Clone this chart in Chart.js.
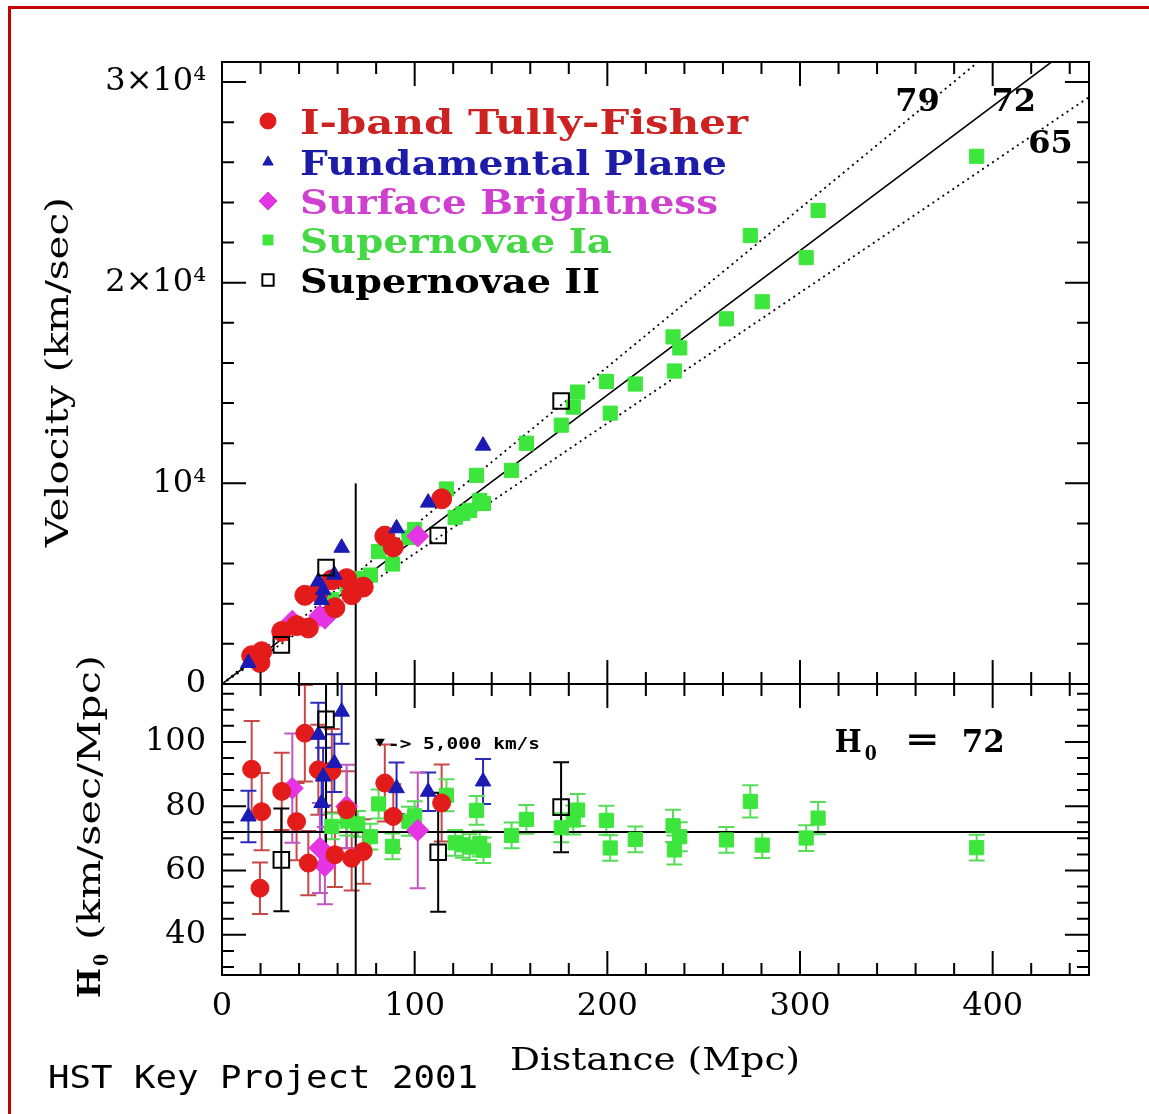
<!DOCTYPE html>
<html lang="en">
<head>
<meta charset="utf-8">
<title>HST Key Project 2001 - Hubble diagram</title>
<script src="https://cdn.jsdelivr.net/npm/chart.js@4.4.1/dist/chart.umd.min.js"></script>
<style>
  body { margin: 0; background: #fff; }
  .page { position: relative; width: 1149px; height: 1114px; overflow: hidden; background: #fff; }
  .page canvas { position: absolute; left: 0; top: 0; }
  .red-frame { position: absolute; left: 8px; top: 6px; width: 1200px; height: 1200px;
               border-left: 3px solid #c40000; border-top: 3px solid #c40000; }
</style>
</head>
<body>
<div class="page">
  <canvas id="hubble-chart" width="1149" height="1114"></canvas>
  <div class="red-frame"></div>
</div>
<script>
// Axis ranges
const distMax = 450;
const velMax = 31000;
const h0Min = 27.5;
const h0Max = 118;
const velTicks = [0, 10000, 20000, 30000];
const velTickLabels = ['0', '10⁴', '2×10⁴', '3×10⁴'];
const h0Ticks = [40, 60, 80, 100];
const distTicks = [0, 100, 200, 300, 400];

// Hubble constants of the three lines in the top panel
const fitH0 = [79, 72, 65];
const fitH0Labels = ['79', '72', '65'];
const bestH0 = 72;

// Vertical cut (5,000 km/s)
const cutDist = 69.4;
const cutVel = 10000;

// I-band Tully-Fisher
const tfDist = [15.4, 20.6, 19.7, 31.0, 38.7, 43.0, 44.8, 50.0, 57.0, 58.6, 64.7, 67.3, 73.3, 84.5, 88.9, 114.0];
const tfVel  = [1410, 1610, 1075, 2620, 2910, 4420, 2790, 4570, 5190, 3800, 5250, 4450, 4830, 7370, 6830, 9230];
const tfH0   = [91.5, 78.3, 54.5, 84.6, 75.2, 102.7, 62.3, 91.3, 91.0, 64.9, 78.9, 63.8, 65.9, 87.2, 76.8, 81.0];
const tfErr  = [15, 12, 8, 12, 12, 15, 10, 14, 13, 10, 12, 10, 10, 12, 10, 12];

// Fundamental Plane
const fpDist = [13.7, 50.0, 52.5, 51.7, 58.3, 62.1, 90.6, 107.0, 135.5];
const fpVel  = [1050, 5110, 4680, 4190, 5450, 6790, 7760, 9040, 11880];
const fpH0   = [76.8, 102.2, 89.2, 81.0, 93.4, 109.4, 85.6, 84.5, 87.7];
const fpErr  = [8, 10, 9, 9, 9, 10, 8, 6, 7];

// Surface Brightness
const sbfDist = [36.5, 50.8, 53.4, 64.7, 101.6];
const sbfVel  = [3130, 3400, 3280, 5170, 7370];
const sbfH0   = [85.6, 67.0, 61.5, 79.9, 72.5];
const sbfErr  = [17, 14, 12, 13, 18];

// Supernovae Ia
const snIaDist = [57.0, 65.0, 70.5, 77.0, 81.3, 88.5, 97.0, 100.0, 116.5, 121.0, 125.0, 128.5, 132.1, 133.8, 135.7, 150.3,
                  158.0, 176.1, 182.3, 184.6, 199.5, 201.5, 214.5, 234.1, 237.6, 234.8, 261.8, 274.2, 280.4, 303.2, 309.4, 391.7];
const snIaVel  = [4200, 4900, 5250, 5430, 6600, 5980, 7300, 7700, 9720, 8300, 8500, 8650, 10400, 9150, 9000, 10650,
                  12000, 12900, 13800, 14550, 15080, 13500, 14950, 17300, 16750, 15600, 18200, 22350, 19050, 21250, 23600, 26300];
const snIaH0   = [73.7, 75.4, 74.5, 70.5, 80.7, 67.5, 75.3, 77.0, 83.4, 68.6, 68.0, 67.3, 78.7, 68.4, 66.3, 70.9,
                  75.9, 73.3, 75.7, 78.8, 75.6, 67.0, 69.7, 73.9, 70.5, 66.4, 69.5, 81.5, 67.9, 70.1, 76.3, 67.1];
const snIaErr  = [4, 4.5, 4, 4, 4.5, 4, 4.5, 4.5, 5, 4, 4, 4, 4.5, 4, 4, 4,
                  4.5, 4.5, 4.5, 5, 4.5, 4, 4, 5, 4.5, 4.5, 4, 5, 4, 4, 5, 4];

// Supernovae II
const snIIDist = [30.8, 54.0, 112.2, 176.0];
const snIIVel  = [1950, 5800, 7400, 14100];
const snIIH0   = [63.3, 107.0, 65.7, 79.7];
const snIIErr  = [16, 40, 18.5, 14];

// Methods and their styles
const methods = [
    { label: 'I-band Tully-Fisher', dist: tfDist, vel: tfVel, h0: tfH0, err: tfErr,
      fill: '#e41b1b', edge: '#e41b1b', edgeWidth: 1, bar: '#c84848', text: '#cc2222',
      style: 'circle', size: 10, sizeLow: 9, legendSize: 8, order: 2 },
    { label: 'Fundamental Plane', dist: fpDist, vel: fpVel, h0: fpH0, err: fpErr,
      fill: '#1a1ab4', edge: '#1a1ab4', edgeWidth: 1, bar: '#2a2ab8', text: '#1c1ca8',
      style: 'triangle', size: 9, sizeLow: 9, legendSize: 6, order: 1 },
    { label: 'Surface Brightness', dist: sbfDist, vel: sbfVel, h0: sbfH0, err: sbfErr,
      fill: '#e434e4', edge: '#e434e4', edgeWidth: 1, bar: '#c056c0', text: '#d040d0',
      style: 'rectRot', size: 11, sizeLow: 11, legendSize: 9, order: 3 },
    { label: 'Supernovae Ia', dist: snIaDist, vel: snIaVel, h0: snIaH0, err: snIaErr,
      fill: '#3ce63c', edge: '#3ce63c', edgeWidth: 1, bar: '#58dc58', text: '#44d844',
      style: 'rect', size: 10, sizeLow: 10, legendSize: 7, order: 4 },
    { label: 'Supernovae II', dist: snIIDist, vel: snIIVel, h0: snIIH0, err: snIIErr,
      fill: 'rgba(0,0,0,0)', edge: '#000', edgeWidth: 2, bar: '#000', text: '#000',
      style: 'rect', size: 11, sizeLow: 11, legendSize: 8, order: 0 }
];

const serif = '"DejaVu Serif", "Liberation Serif", serif';

// Build the datasets
const datasets = [];

methods.forEach((m) => {
    // top panel: velocity
    datasets.push({
        type: 'scatter',
        label: m.label,
        yAxisID: 'yV',
        data: m.dist.map((d, i) => ({ x: d, y: m.vel[i] })),
        pointStyle: m.style,
        pointRadius: m.size,
        backgroundColor: m.fill,
        borderColor: m.edge,
        borderWidth: m.edgeWidth,
        order: m.order
    });
    // bottom panel: H0 with error bars
    datasets.push({
        type: 'scatter',
        label: m.label + ' H0',
        yAxisID: 'yH',
        data: m.dist.map((d, i) => ({ x: d, y: m.h0[i] })),
        errors: m.err,
        barColor: m.bar,
        pointStyle: m.style,
        pointRadius: m.sizeLow,
        backgroundColor: m.fill,
        borderColor: m.edge,
        borderWidth: m.edgeWidth,
        order: m.order
    });
});

// Hubble lines v = H0 * d
fitH0.forEach((h) => {
    datasets.push({
        type: 'line',
        yAxisID: 'yV',
        data: [{ x: 0, y: 0 }, { x: distMax, y: h * distMax }],
        borderColor: '#000',
        borderWidth: h === bestH0 ? 1.6 : 1.8,
        borderDash: h === bestH0 ? [] : [2, 4],
        pointRadius: 0,
        order: 10
    });
});

// H0 = 72 line in the bottom panel
datasets.push({
    type: 'line',
    yAxisID: 'yH',
    data: [{ x: 0, y: bestH0 }, { x: distMax, y: bestH0 }],
    borderColor: '#000',
    borderWidth: 2,
    pointRadius: 0,
    order: 10
});

// vertical cut line in both panels
datasets.push({
    type: 'line',
    yAxisID: 'yV',
    data: [{ x: cutDist, y: 0 }, { x: cutDist, y: cutVel }],
    borderColor: '#000',
    borderWidth: 2,
    pointRadius: 0,
    order: 10
});
datasets.push({
    type: 'line',
    yAxisID: 'yH',
    data: [{ x: cutDist, y: h0Min }, { x: cutDist, y: h0Max }],
    borderColor: '#000',
    borderWidth: 2,
    pointRadius: 0,
    order: 10
});

// Error bars under the bottom panel markers
const errorBars = {
    id: 'errorBars',
    beforeDatasetsDraw(chart) {
        const ctx = chart.ctx;
        const xs = chart.scales.x;
        const ys = chart.scales.yH;
        ctx.save();
        ctx.beginPath();
        ctx.rect(xs.left, ys.top, xs.right - xs.left, ys.bottom - ys.top);
        ctx.clip();
        ctx.lineWidth = 2;
        chart.data.datasets.forEach((ds) => {
            if (!ds.errors) return;
            ctx.strokeStyle = ds.barColor;
            ds.data.forEach((p, i) => {
                const px = xs.getPixelForValue(p.x);
                const hi = ys.getPixelForValue(p.y + ds.errors[i]);
                const lo = ys.getPixelForValue(p.y - ds.errors[i]);
                ctx.beginPath();
                ctx.moveTo(px, hi);
                ctx.lineTo(px, lo);
                ctx.moveTo(px - 8, hi);
                ctx.lineTo(px + 8, hi);
                ctx.moveTo(px - 8, lo);
                ctx.lineTo(px + 8, lo);
                ctx.stroke();
            });
        });
        ctx.restore();
    }
};

// Boxes and inward ticks on all sides of both panels
const panelFrames = {
    id: 'panelFrames',
    afterDatasetsDraw(chart) {
        const ctx = chart.ctx;
        const xs = chart.scales.x;
        const panels = [
            { scale: chart.scales.yV, start: 0, minor: 2000, major: 10000 },
            { scale: chart.scales.yH, start: 30, minor: 5, major: 20 }
        ];
        ctx.save();
        ctx.strokeStyle = '#000';
        ctx.lineWidth = 2;
        panels.forEach((p) => {
            const s = p.scale;
            ctx.strokeRect(xs.left, s.top, xs.right - xs.left, s.bottom - s.top);
            ctx.beginPath();
            for (let d = 20; d < distMax; d += 20) {
                const px = xs.getPixelForValue(d);
                const len = d % 100 === 0 ? 24 : 12;
                ctx.moveTo(px, s.bottom);
                ctx.lineTo(px, s.bottom - len);
                ctx.moveTo(px, s.top);
                ctx.lineTo(px, s.top + len);
            }
            for (let v = p.start; v < s.max; v += p.minor) {
                if (v <= s.min) continue;
                const py = s.getPixelForValue(v);
                const len = v % p.major === 0 ? 24 : 12;
                ctx.moveTo(xs.left, py);
                ctx.lineTo(xs.left + len, py);
                ctx.moveTo(xs.right, py);
                ctx.lineTo(xs.right - len, py);
            }
            ctx.stroke();
        });
        ctx.restore();
    }
};

// Draw text squeezed or stretched to a given width
function drawFitText(ctx, text, x, y, width, font, color, angle) {
    ctx.save();
    ctx.font = font;
    ctx.fillStyle = color;
    ctx.textAlign = 'left';
    ctx.textBaseline = 'alphabetic';
    const w = ctx.measureText(text).width;
    ctx.translate(x, y);
    if (angle) ctx.rotate(angle);
    ctx.scale(width / w, 1);
    ctx.fillText(text, 0, 0);
    ctx.restore();
}

// Legend, labels and titles
const chartTexts = {
    id: 'chartTexts',
    afterDraw(chart) {
        const ctx = chart.ctx;
        const xs = chart.scales.x;
        const yV = chart.scales.yV;
        const yH = chart.scales.yH;

        // legend
        const legendRows = [121, 162, 201, 240, 280];
        const legendWidths = [448, 427, 418, 312, 300];
        methods.forEach((m, i) => {
            ctx.save();
            ctx.fillStyle = m.fill;
            ctx.strokeStyle = m.edge;
            ctx.lineWidth = m.edgeWidth;
            Chart.helpers.drawPoint(ctx, { pointStyle: m.style, radius: m.legendSize, borderWidth: m.edgeWidth, rotation: 0 }, 268, legendRows[i]);
            ctx.restore();
            drawFitText(ctx, m.label, 300, legendRows[i] + 13, legendWidths[i], 'bold 33px ' + serif, m.text);
        });

        // labels of the Hubble lines
        const fitLabelAt = [[361, 28950], [411, 28950], [430, 26860]];
        ctx.save();
        ctx.font = 'bold 32px ' + serif;
        ctx.fillStyle = '#000';
        ctx.textAlign = 'center';
        ctx.textBaseline = 'middle';
        fitH0Labels.forEach((t, i) => {
            ctx.fillText(t, xs.getPixelForValue(fitLabelAt[i][0]), yV.getPixelForValue(fitLabelAt[i][1]));
        });
        ctx.restore();

        // H0 = 72 label
        const hx = xs.getPixelForValue(318);
        const hy = yH.getPixelForValue(100.6) + 12;
        drawFitText(ctx, 'H', hx, hy, 27, 'bold 32px ' + serif, '#000');
        drawFitText(ctx, '0', hx + 30, hy + 8, 12, 'bold 20px ' + serif, '#000');
        drawFitText(ctx, '=', hx + 70, hy - 2, 35, 'bold 32px ' + serif, '#000');
        drawFitText(ctx, String(bestH0), hx + 127, hy, 43, 'bold 32px ' + serif, '#000');

        // 5,000 km/s marker
        const mx = xs.getPixelForValue(82);
        const my = yH.getPixelForValue(99.7);
        ctx.save();
        ctx.fillStyle = '#000';
        ctx.beginPath();
        ctx.moveTo(mx - 5, my - 4);
        ctx.lineTo(mx + 5, my - 4);
        ctx.lineTo(mx, my + 4);
        ctx.closePath();
        ctx.fill();
        ctx.restore();
        drawFitText(ctx, '-> 5,000 km/s', mx + 8, my + 6, 152, 'bold 15px "DejaVu Sans Mono", monospace', '#000');

        // axis titles
        drawFitText(ctx, 'Velocity (km/sec)', 68, 547, 350, '32px ' + serif, '#000', -Math.PI / 2);
        drawFitText(ctx, 'H', 100, 998, 30, 'bold 32px ' + serif, '#000', -Math.PI / 2);
        drawFitText(ctx, '0', 108, 966, 12, 'bold 20px ' + serif, '#000', -Math.PI / 2);
        drawFitText(ctx, '(km/sec/Mpc)', 100, 940, 285, '32px ' + serif, '#000', -Math.PI / 2);
        drawFitText(ctx, 'Distance (Mpc)', 510, 1070, 290, '32px ' + serif, '#000');
        drawFitText(ctx, 'HST Key Project 2001', 48, 1088, 430, '32px "DejaVu Sans Mono", monospace', '#000');
    }
};

const tickFont = { family: serif, size: 32 };

// Put the ticks exactly where the labels go
function fixedTicks(values) {
    return (scale) => {
        scale.ticks = values.map((v) => ({ value: v }));
    };
}

const hubbleChart = new Chart(document.getElementById('hubble-chart'), {
    type: 'scatter',
    data: { datasets: datasets },
    options: {
        responsive: false,
        animation: false,
        layout: { padding: { top: 62, right: 60, left: 0, bottom: 0 } },
        plugins: {
            legend: { display: false },
            tooltip: { enabled: false }
        },
        scales: {
            x: {
                type: 'linear',
                position: 'bottom',
                min: 0,
                max: distMax,
                grid: { display: false, drawTicks: false },
                border: { display: false },
                ticks: { autoSkip: false, maxRotation: 0, padding: 12, color: '#000', font: tickFont },
                afterBuildTicks: fixedTicks(distTicks),
                afterFit: (scale) => { scale.height = 139; }
            },
            yV: {
                type: 'linear',
                position: 'left',
                stack: 'panels',
                stackWeight: 622,
                weight: 2,
                min: 0,
                max: velMax,
                grid: { display: false, drawTicks: false },
                border: { display: false },
                ticks: {
                    autoSkip: false,
                    padding: 16,
                    color: '#000',
                    font: tickFont,
                    callback: (value) => velTickLabels[velTicks.indexOf(value)]
                },
                afterBuildTicks: fixedTicks(velTicks),
                afterFit: (scale) => { scale.width = 222; }
            },
            yH: {
                type: 'linear',
                position: 'left',
                stack: 'panels',
                stackWeight: 291,
                weight: 1,
                min: h0Min,
                max: h0Max,
                grid: { display: false, drawTicks: false },
                border: { display: false },
                ticks: { autoSkip: false, padding: 16, color: '#000', font: tickFont },
                afterBuildTicks: fixedTicks(h0Ticks),
                afterFit: (scale) => { scale.width = 222; }
            }
        }
    },
    plugins: [errorBars, panelFrames, chartTexts]
});
</script>
</body>
</html>
